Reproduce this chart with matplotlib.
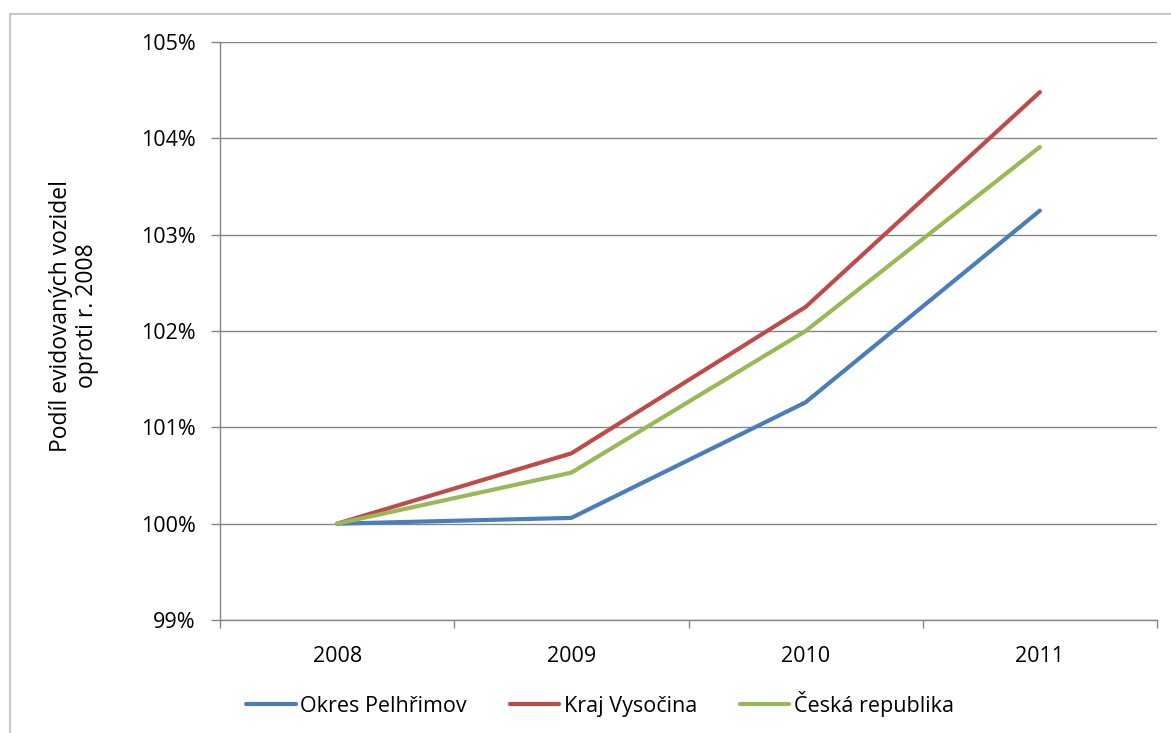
import numpy as np
import matplotlib
matplotlib.use('Agg')
import matplotlib.pyplot as plt
from matplotlib.patches import Rectangle

# data (percent of 2008 value)
years = ['2008', '2009', '2010', '2011']
pelhrimov = [100.0, 100.06, 101.26, 103.25]
vysocina = [100.0, 100.73, 102.25, 104.48]
cr = [100.0, 100.53, 102.00, 103.91]
series_names = ['Okres Pelhřimov', 'Kraj Vysočina', 'Česká republika']
series_colors = ['#4a7ebb', '#be4b48', '#98b954']
yticks = [99, 100, 101, 102, 103, 104, 105]

plt.rcParams['font.family'] = ['Open Sans', 'DejaVu Sans']
fs = 15.5

W, H = 1171, 733
fig = plt.figure(figsize=(W / 100, H / 100), dpi=100)
ax = fig.add_axes([220 / W, 1 - 620 / H, (1157 - 220) / W, (620 - 42) / H])

x = np.arange(len(years))
lines = []
for vals, name, col in zip([pelhrimov, vysocina, cr], series_names, series_colors):
    ln, = ax.plot(x, vals, color=col, lw=3, label=name,
                  solid_capstyle='round', solid_joinstyle='round', zorder=3)
    lines.append(ln)

grid_col = '#868686'
ax.set_xlim(-0.5, len(years) - 0.5)
ax.set_ylim(99, 105)
ax.set_yticks(yticks)
ax.set_yticklabels(['{}%'.format(v) for v in yticks])
ax.yaxis.grid(True, color=grid_col, lw=1)
ax.set_axisbelow(True)

# category labels centered, tick marks between categories
ax.set_xticks(x)
ax.set_xticklabels(years)
ax.set_xticks(np.arange(-0.5, len(years), 1.0), minor=True)
ax.tick_params(axis='x', which='major', length=0, pad=19, labelsize=fs, colors='#000000')
ax.tick_params(axis='x', which='minor', length=6, width=1, color=grid_col)
ax.tick_params(axis='y', length=6.5, width=1, color=grid_col, pad=11, labelsize=fs)

for s in ['top', 'right']:
    ax.spines[s].set_visible(False)
for s in ['left', 'bottom']:
    ax.spines[s].set_color(grid_col)
    ax.spines[s].set_linewidth(1)

fig.text(74 / W, 1 - 316 / H, 'Podíl evidovaných vozidel\noproti r. 2008',
         rotation=90, ha='center', va='center', multialignment='center',
         fontsize=16.5, linespacing=1.1)

fig.legend(handles=lines, loc='center', bbox_to_anchor=(600 / W, 1 - 704 / H),
           ncol=3, frameon=False, fontsize=fs, handlelength=2.3,
           handletextpad=0.2, columnspacing=2.0)

# outer chart border
fig.patches.append(Rectangle((10 / W, -0.1), 1.2, 1 - 14 / H + 0.1,
                             transform=fig.transFigure, fill=False,
                             edgecolor='#c8c8c8', lw=1.5))

fig.savefig('out.png', dpi=100)
